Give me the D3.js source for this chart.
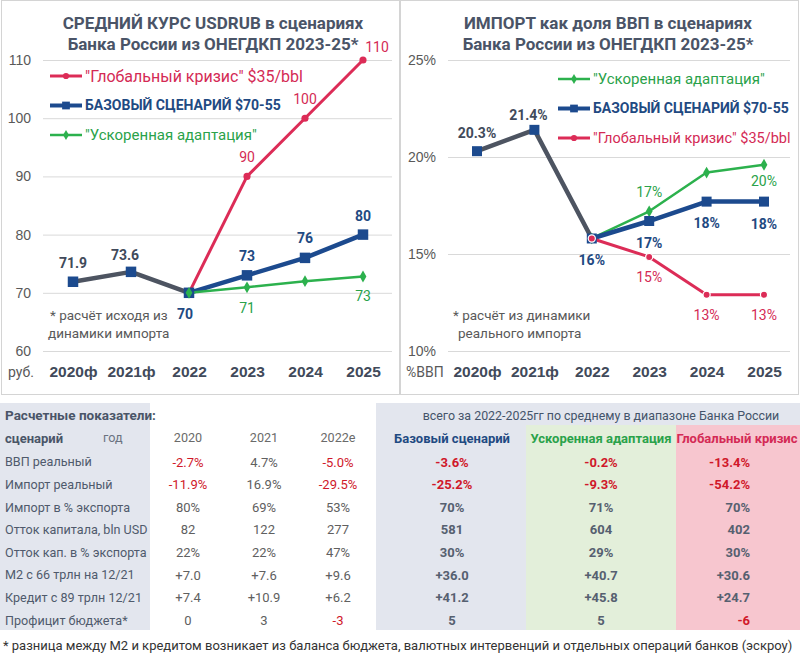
<!DOCTYPE html>
<html><head><meta charset="utf-8">
<script src="https://cdn.jsdelivr.net/npm/d3@7"></script>
<style>body{margin:0;background:#fff;} svg{display:block;font-family:Roboto,"Open Sans",sans-serif;}</style>
</head><body><svg id="c" width="800" height="659"></svg>
<script>
// ---------- DATA ----------
const years = ["2020ф","2021ф","2022","2023","2024","2025"];
const histYears = ["2020ф","2021ф","2022"];
const scenYears = ["2022","2023","2024","2025"];

const usdHist   = [71.9, 73.6, 70];
const usdBase   = [70, 73, 76, 80];
const usdAdapt  = [70, 70.95, 72, 72.8];
const usdCrisis = [70, 90, 100, 110];
const usdTicks  = [60, 70, 80, 90, 100, 110];

const impHist   = [20.3, 21.4, 15.8];
const impBase   = [15.8, 16.7, 17.7, 17.7];
const impAdapt  = [15.8, 17.2, 19.2, 19.6];
const impCrisis = [15.8, 14.85, 12.9, 12.9];
const impTicks  = [10, 15, 20, 25];

const legendCrisis = "\"Глобальный кризис\" $35/bbl";
const legendBase   = "БАЗОВЫЙ СЦЕНАРИЙ $70-55";
const legendAdapt  = "\"Ускоренная адаптация\"";

const rowLabels = ["ВВП реальный","Импорт реальный","Импорт в % экспорта","Отток капитала, bln USD","Отток кап. в % экспорта","M2 с 66 трлн на 12/21","Кредит с 89 трлн 12/21","Профицит бюджета*"];
const col2020   = ["-2.7%","-11.9%","80%","82","22%","+7.0","+7.4","0"];
const col2021   = ["4.7%","16.9%","69%","122","22%","+7.6","+10.9","3"];
const col2022   = ["-5.0%","-29.5%","53%","277","47%","+9.6","+6.2","-3"];
const colBase   = ["-3.6%","-25.2%","70%","581","30%","+36.0","+41.2","5"];
const colAdapt  = ["-0.2%","-9.3%","71%","604","29%","+40.7","+45.8","5"];
const colCrisis = ["-13.4%","-54.2%","70%","402","30%","+30.6","+24.7","-6"];
const tableYears = ["2020","2021","2022e"];
const scenHeads  = ["Базовый сценарий","Ускоренная адаптация","Глобальный кризис"];

// ---------- STYLE ----------
const C = {title:"#4a5467", blue:"#1c4a8e", gray:"#4d5461", red:"#dc2c57", green:"#2cb14d",
  text:"#595959", grid:"#d9d9d9", blueTxt:"#1f4a82", grayTxt:"#414a5a", redTxt:"#d42a55", greenTxt:"#2aa24a",
  tblRed:"#d0182a", bgGray:"#e3e6ee", bgGreen:"#e3efda", bgPink:"#f7c6cf"};

const svg = d3.select("#c");

function drawChart(o){
  const g = svg.append("g");
  const x = d3.scalePoint().domain(years).range(o.xr);
  const y = d3.scaleLinear().domain(o.yd).range([351, 60]);
  g.append("rect").attr("x",o.box[0]+0.5).attr("y",0.5).attr("width",o.box[1]-o.box[0]).attr("height",394)
    .attr("fill","none").attr("stroke","#d4d4d4");
  o.title.forEach((t,i)=>g.append("text").attr("x",o.tx).attr("y",23+i*21.5).attr("dy","0.35em")
    .attr("text-anchor","middle").attr("font-size",17).attr("font-weight","bold").attr("fill",C.title).text(t));
  const ay = d3.axisLeft(y).tickValues(o.ticks).tickFormat(o.tf).tickSize(-(o.gx[1]-o.gx[0]));
  const ag = g.append("g").attr("transform",`translate(${o.gx[0]},0)`).call(ay);
  ag.select(".domain").remove();
  ag.selectAll(".tick line").attr("stroke",C.grid);
  ag.selectAll(".tick text").attr("x",o.tickX-o.gx[0]).attr("font-size",14).attr("fill",C.text).attr("font-family",null);
  const axb = d3.axisBottom(x).tickSize(0);
  const xg = g.append("g").attr("transform","translate(0,372)").call(axb);
  xg.select(".domain").remove();
  xg.selectAll(".tick text").attr("y",0).attr("dy","0.35em").attr("font-size",15.5).attr("font-weight","bold")
    .attr("fill",C.grayTxt).attr("font-family",null);
  g.append("text").attr("x",o.unitX).attr("y",372).attr("dy","0.35em").attr("font-size",14).attr("fill",C.text).text(o.unit);
  o.note.forEach((t,i)=>g.append("text").attr("x",o.noteX[i]).attr("y",315+i*18).attr("dy","0.35em")
    .attr("font-size",13.5).attr("fill",C.text).text(t));
  const line = d3.line().x(d=>x(d.k)).y(d=>y(d.v));
  const sets = {};
  o.series.forEach(s=>{ sets[s.key] = s.vals.map((v,i)=>({k:s.cats[i], v})); });
  o.series.forEach(s=>{
    g.append("path").datum(sets[s.key]).attr("d",line).attr("fill","none").attr("stroke",s.color)
      .attr("stroke-width",s.w).attr("stroke-linejoin","round").attr("stroke-linecap","round");
  });
  o.series.forEach(s=>{
    const pts = sets[s.key].filter((d,i)=>!s.skip || !s.skip.includes(i));
    g.selectAll(null).data(pts).join("path")
      .attr("transform",d=>`translate(${x(d.k)},${y(d.v)})`)
      .attr("d",d3.symbol().type(s.sym).size(s.size)())
      .attr("fill",s.mfill).attr("stroke",s.mstroke||"none").attr("stroke-width",s.mstroke?1.2:0);
  });
  o.labels.forEach(l=>{
    const d = sets[l.key][l.i];
    g.append("text").attr("x",x(d.k)+(l.dx||0)).attr("y",y(d.v)+l.dy).attr("dy","0.35em")
      .attr("text-anchor","middle").attr("font-size",14).attr("font-weight",l.bold?"bold":"normal")
      .attr("fill",l.color).text(l.f(d.v));
  });
  o.legend.forEach((l,i)=>{
    const ly = o.ly + i*29.5;
    g.append("line").attr("x1",o.lx).attr("x2",o.lx+32).attr("y1",ly).attr("y2",ly)
      .attr("stroke",l.color).attr("stroke-width",l.w);
    g.append("path").attr("transform",`translate(${o.lx+16},${ly})`).attr("d",d3.symbol().type(l.sym).size(l.size)()).attr("fill",l.color);
    g.append("text").attr("x",o.lx+35).attr("y",ly).attr("dy","0.35em").attr("font-size",l.fs)
      .attr("font-weight",l.bold?"bold":"normal").attr("fill",l.tcolor).text(l.text);
  });
}

const f1 = d3.format(".1f"), f0 = d3.format(".0f");
const sq = d3.symbolSquare, ci = d3.symbolCircle, di = d3.symbolDiamond;

drawChart({
  box:[1,399], xr:[73,363], yd:[60,110], ticks:usdTicks, tf:d=>d, gx:[43,392], tickX:31,
  tx:213, title:["СРЕДНИЙ КУРС USDRUB в сценариях","Банка России из ОНЕГДКП 2023-25*"],
  unit:"руб.", unitX:8, note:["* расчёт исходя из","динамики импорта"], noteX:[50,48],
  series:[
    {key:"h", cats:histYears, vals:usdHist, color:C.gray, w:4.5, sym:sq, size:110, mfill:C.blue, skip:[2]},
    {key:"c", cats:scenYears, vals:usdCrisis, color:C.red, w:3, sym:ci, size:40, mfill:C.red},
    {key:"b", cats:scenYears, vals:usdBase, color:C.blue, w:4.5, sym:sq, size:110, mfill:C.blue},
    {key:"a", cats:scenYears, vals:usdAdapt, color:C.green, w:2.5, sym:di, size:40, mfill:C.green}
  ],
  labels:[
    {key:"h",i:0,dy:-19,f:f1,color:C.grayTxt,bold:true},
    {key:"h",i:1,dx:-6,dy:-17,f:f1,color:C.grayTxt,bold:true},
    {key:"b",i:0,dx:-4,dy:21,f:f0,color:C.blueTxt,bold:true},
    {key:"b",i:1,dy:-19,f:f0,color:C.blueTxt,bold:true},
    {key:"b",i:2,dy:-20,f:f0,color:C.blueTxt,bold:true},
    {key:"b",i:3,dy:-19,f:f0,color:C.blueTxt,bold:true},
    {key:"a",i:1,dy:21,f:f0,color:C.greenTxt},
    {key:"a",i:3,dy:20,f:f0,color:C.greenTxt},
    {key:"c",i:1,dy:-19,f:f0,color:C.redTxt},
    {key:"c",i:2,dy:-19,f:f0,color:C.redTxt},
    {key:"c",i:3,dx:14,dy:-13,f:f0,color:C.redTxt}
  ],
  lx:50, ly:76,
  legend:[
    {color:C.red, w:3, sym:ci, size:30, tcolor:C.redTxt, text:legendCrisis, fs:16},
    {color:C.blue, w:4, sym:sq, size:60, tcolor:C.blueTxt, text:legendBase, bold:true, fs:14},
    {color:C.green, w:2.5, sym:di, size:30, tcolor:C.greenTxt, text:legendAdapt, fs:15}
  ]
});

drawChart({
  box:[400,798], xr:[477,764], yd:[10,25], ticks:impTicks, tf:d=>d+"%", gx:[448,790], tickX:436,
  tx:608, title:["ИМПОРТ как доля ВВП в сценариях","Банка России из ОНЕГДКП 2023-25*"],
  unit:"%ВВП", unitX:406, note:["* расчёт из динамики","реального импорта"], noteX:[453,458],
  series:[
    {key:"h", cats:histYears, vals:impHist, color:C.gray, w:4.5, sym:sq, size:100, mfill:C.blue, skip:[2]},
    {key:"a", cats:scenYears, vals:impAdapt, color:C.green, w:2.5, sym:di, size:40, mfill:C.green},
    {key:"b", cats:scenYears, vals:impBase, color:C.blue, w:4.5, sym:sq, size:100, mfill:C.blue},
    {key:"c", cats:scenYears, vals:impCrisis, color:C.red, w:3, sym:ci, size:40, mfill:C.red, mstroke:"#fff"}
  ],
  labels:[
    {key:"h",i:0,dy:-18,f:d=>f1(d)+"%",color:C.grayTxt,bold:true},
    {key:"h",i:1,dx:-6,dy:-15,f:d=>f1(d)+"%",color:C.grayTxt,bold:true},
    {key:"b",i:0,dy:22,f:d=>f0(d)+"%",color:C.blueTxt,bold:true},
    {key:"b",i:1,dy:22,f:d=>f0(d)+"%",color:C.blueTxt,bold:true},
    {key:"b",i:2,dy:21,f:d=>f0(d)+"%",color:C.blueTxt,bold:true},
    {key:"b",i:3,dy:22,f:d=>f0(d)+"%",color:C.blueTxt,bold:true},
    {key:"a",i:1,dy:-19,f:d=>f0(d)+"%",color:C.greenTxt},
    {key:"a",i:3,dy:16,f:d=>f0(d)+"%",color:C.greenTxt},
    {key:"c",i:1,dy:20,f:d=>f0(d)+"%",color:C.redTxt},
    {key:"c",i:2,dy:20,f:d=>f0(d)+"%",color:C.redTxt},
    {key:"c",i:3,dy:20,f:d=>f0(d)+"%",color:C.redTxt}
  ],
  lx:558, ly:79,
  legend:[
    {color:C.green, w:2.5, sym:di, size:30, tcolor:C.greenTxt, text:legendAdapt, fs:15},
    {color:C.blue, w:4, sym:sq, size:60, tcolor:C.blueTxt, text:legendBase, bold:true, fs:14},
    {color:C.red, w:3, sym:ci, size:30, tcolor:C.redTxt, text:legendCrisis, fs:14.5}
  ]
});

// ---------- TABLE ----------
const tg = svg.append("g");
tg.append("rect").attr("x",0).attr("y",403).attr("width",150).attr("height",227).attr("fill",C.bgGray);
tg.append("rect").attr("x",376).attr("y",403).attr("width",424).attr("height",227).attr("fill",C.bgGray);
tg.append("rect").attr("x",526).attr("y",425).attr("width",150).attr("height",205).attr("fill",C.bgGreen);
tg.append("rect").attr("x",676).attr("y",425).attr("width",124).attr("height",205).attr("fill",C.bgPink);

const T = (x,y,t,o={})=>tg.append("text").attr("x",x).attr("y",y).attr("dy","0.35em")
  .attr("text-anchor",o.a||"start").attr("font-weight",o.b?"bold":"normal").attr("fill",o.c||C.text)
  .attr("font-size",o.s||12.6).text(t);

T(5,415,"Расчетные показатели:",{b:true,c:"#4a5568",s:13.5});
T(601,416,"всего за 2022-2025гг по среднему в диапазоне Банка России",{a:"middle",c:"#44546a",s:12.4});
T(5,438,"сценарий",{b:true,c:"#4a5568",s:13});
T(103,438,"год",{c:"#6a7280"});
const leftX = [188,264,338];
tableYears.forEach((t,i)=>T(leftX[i],438,t,{a:"middle",c:"#6a6a6a"}));
const headX = [452,601,737];
const headC = [C.blueTxt, C.greenTxt, C.redTxt];
scenHeads.forEach((t,i)=>T(headX[i],438,t,{a:"middle",b:true,c:headC[i],s:13}));

const rowY = i => 462 + i*22.6;
rowLabels.forEach((t,i)=>T(5,rowY(i),t,{c:"#4f5a6c"}));
[col2020,col2021,col2022].forEach((col,j)=>col.forEach((v,i)=>
  T(leftX[j],rowY(i),v,{a:"middle",c:v.startsWith("-")?C.tblRed:"#606060",s:13})));
[colBase,colAdapt].forEach((col,j)=>col.forEach((v,i)=>
  T(headX[j],rowY(i),v,{a:"middle",b:true,c:v.startsWith("-")?C.tblRed:"#566070",s:13})));
colCrisis.forEach((v,i)=>T(750,rowY(i),v,{a:"end",b:true,c:v.startsWith("-")?C.tblRed:"#566070",s:13}));

T(3,645,"* разница между M2 и кредитом возникает из баланса бюджета, валютных интервенций и отдельных операций банков (эскроу)",{c:"#333",s:13});
</script></body></html>
